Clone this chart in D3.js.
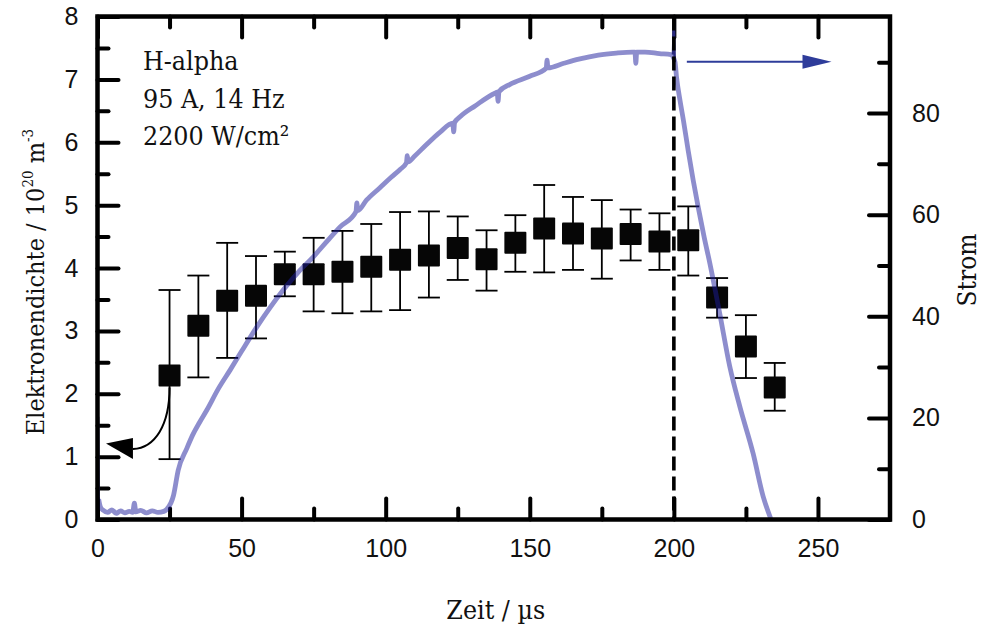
<!DOCTYPE html>
<html>
<head>
<meta charset="utf-8">
<script src="https://cdn.jsdelivr.net/npm/d3@7"></script>
<style>
  html, body { margin: 0; padding: 0; background: #ffffff; }
  svg { display: block; font-family: "DejaVu Serif Condensed", "DejaVu Serif", "Liberation Serif", serif; }
</style>
</head>
<body>
<svg id="chart" width="989" height="629"></svg>
<script>
// Electron density measurements (10^20 m^-3) with error limits
const times       = [25, 35, 45, 55, 65, 75, 85, 95, 105, 115, 125, 135, 145, 155, 165, 175, 185, 195, 205, 215, 225, 235];
const density     = [2.29, 3.08, 3.48, 3.56, 3.90, 3.90, 3.94, 4.02, 4.13, 4.20, 4.32, 4.14, 4.40, 4.63, 4.55, 4.47, 4.54, 4.42, 4.44, 3.53, 2.75, 2.10];
const densityHigh = [3.65, 3.88, 4.40, 4.19, 4.26, 4.48, 4.59, 4.70, 4.89, 4.90, 4.82, 4.60, 4.84, 5.32, 5.13, 5.08, 4.93, 4.87, 4.98, 3.84, 3.25, 2.49];
const densityLow  = [0.96, 2.26, 2.57, 2.88, 3.55, 3.31, 3.28, 3.31, 3.33, 3.53, 3.81, 3.64, 3.94, 3.93, 3.97, 3.83, 4.12, 3.97, 3.88, 3.21, 2.25, 1.73];

// Discharge current trace (A) over time (µs), including its small glitches
const traceTime    = [0.4, 1.0, 2.0, 3.5, 5.0, 6.5, 8.0, 9.5, 11.0, 12.2, 12.8, 13.3, 15.0, 17.0, 19.0, 21.0, 23.0, 24.0,
                      26.4, 28.0, 31.0, 33.0, 35.5, 38.0, 42.0, 46.0, 50.0, 55.3, 60.0, 64.5, 70.0, 74.9,
                      80.0, 84.2, 89.7, 90.0, 90.3, 93.4, 98.0, 102.0, 105.0, 107.2, 107.5, 107.8, 110.0, 114.0, 119.0,
                      123.3, 123.6, 123.9, 125.9, 131.0, 137.9, 138.7, 139.0, 139.3, 143.0, 149.8, 155.7, 156.0, 156.3,
                      161.8, 167.0, 173.8, 180.0, 185.7, 186.5, 186.8, 187.1, 190.0, 195.0, 199.0, 200.4, 200.9, 202.1,
                      203.3, 205.0, 206.7, 208.4, 210.5, 212.5, 215.9, 219.4, 222.9, 227.5, 231.0, 233.6];
const traceCurrent = [4.0, 2.5, 1.8, 1.4, 1.9, 1.2, 1.7, 1.3, 1.6, 1.4, 3.2, 1.5, 1.8, 1.3, 1.7, 1.4, 1.6, 2.0,
                      4.8, 9.7, 14.0, 16.6, 19.2, 21.6, 25.8, 29.4, 33.1, 37.9, 41.8, 45.2, 48.9, 51.7,
                      55.0, 57.6, 60.6, 62.3, 60.8, 62.9, 65.3, 67.4, 68.9, 70.2, 71.6, 70.4, 71.5, 73.7, 76.3,
                      78.0, 76.3, 78.1, 79.3, 81.4, 83.9, 84.1, 82.3, 84.2, 85.6, 87.2, 88.8, 90.4, 88.9,
                      89.8, 90.6, 91.4, 91.8, 92.0, 92.0, 89.8, 92.0, 92.0, 91.7, 91.5, 90.0, 87.2, 82.6,
                      78.6, 72.5, 66.8, 61.6, 55.6, 50.4, 40.6, 30.1, 22.2, 13.0, 4.5, 0.2];

// Switching spikes at pulse start and pulse end
const spikeStartTime    = [0.0, 0.2, 0.4];
const spikeStartCurrent = [0.0, 20.2, 4.0];
const spikeEndTime      = [199.7, 200.0, 200.3];
const spikeEndCurrent   = [91.5, 99.0, 90.0];

// Axis ticks
const xTicks       = [0, 50, 100, 150, 200, 250];
const xMinorTicks  = [25, 75, 125, 175, 225];
const yTicks       = [0, 1, 2, 3, 4, 5, 6, 7, 8];
const yMinorTicks  = [0.5, 1.5, 2.5, 3.5, 4.5, 5.5, 6.5, 7.5];
const y2Ticks      = [0, 20, 40, 60, 80];
const y2MinorTicks = [10, 30, 50, 70, 90];

const pulseEnd = 200;
const infoLines = ["H-alpha", "95 A, 14 Hz", "2200 W/cm\u00B2"];

const svg = d3.select("#chart");
const plotL = 97.5, plotR = 890, plotT = 16.5, plotB = 519.5;

const x  = d3.scaleLinear().domain([0, 275]).range([plotL, plotR]);
const y  = d3.scaleLinear().domain([0, 8]).range([plotB, plotT]);
const y2 = d3.scaleLinear().domain([0, 99]).range([plotB, plotT]);

const FS = 25;
const MAJ = 21, MIN = 11;

// --- axes (ticks point inward) ---
function styleAxis(g) {
  g.select(".domain").remove();
  g.selectAll(".tick line").attr("stroke", "#000").attr("stroke-width", 4).attr("stroke-linecap", "round");
  g.selectAll(".tick text").attr("fill", "#111").style("font-size", FS + "px");
}

svg.append("g").attr("transform", `translate(0,${plotB})`)
  .call(d3.axisBottom(x).tickValues(xTicks).tickSize(-MAJ).tickPadding(20).tickFormat(d3.format("d")))
  .call(styleAxis);
svg.append("g").attr("transform", `translate(0,${plotB})`)
  .call(d3.axisBottom(x).tickValues(xMinorTicks).tickSize(-MIN).tickFormat(""))
  .call(styleAxis);
svg.append("g").attr("transform", `translate(0,${plotT})`)
  .call(d3.axisTop(x).tickValues(xTicks).tickSize(-MAJ).tickFormat(""))
  .call(styleAxis);
svg.append("g").attr("transform", `translate(0,${plotT})`)
  .call(d3.axisTop(x).tickValues(xMinorTicks).tickSize(-MIN).tickFormat(""))
  .call(styleAxis);

svg.append("g").attr("transform", `translate(${plotL},0)`)
  .call(d3.axisLeft(y).tickValues(yTicks).tickSize(-MAJ).tickPadding(19).tickFormat(d3.format("d")))
  .call(styleAxis);
svg.append("g").attr("transform", `translate(${plotL},0)`)
  .call(d3.axisLeft(y).tickValues(yMinorTicks).tickSize(-MIN).tickFormat(""))
  .call(styleAxis);

svg.append("g").attr("transform", `translate(${plotR},0)`)
  .call(d3.axisRight(y2).tickValues(y2Ticks).tickSize(-MAJ).tickPadding(22).tickFormat(d3.format("d")))
  .call(styleAxis);
svg.append("g").attr("transform", `translate(${plotR},0)`)
  .call(d3.axisRight(y2).tickValues(y2MinorTicks).tickSize(-MIN).tickFormat(""))
  .call(styleAxis);

// --- density points with error bars ---
const pts = times.map((t, i) => ({ t, v: density[i], hi: densityHigh[i], lo: densityLow[i] }));
const SQ = 22, CAP = 22;
const bars = svg.append("g").attr("stroke", "#000").attr("stroke-width", 1.8);
bars.selectAll("line.stem").data(pts).join("line").attr("class", "stem")
  .attr("x1", d => x(d.t)).attr("x2", d => x(d.t))
  .attr("y1", d => y(d.hi)).attr("y2", d => y(d.lo));
bars.selectAll("line.capHi").data(pts).join("line").attr("class", "capHi")
  .attr("x1", d => x(d.t) - CAP / 2).attr("x2", d => x(d.t) + CAP / 2)
  .attr("y1", d => y(d.hi)).attr("y2", d => y(d.hi));
bars.selectAll("line.capLo").data(pts).join("line").attr("class", "capLo")
  .attr("x1", d => x(d.t) - CAP / 2).attr("x2", d => x(d.t) + CAP / 2)
  .attr("y1", d => y(d.lo)).attr("y2", d => y(d.lo));
svg.append("g").selectAll("rect").data(pts).join("rect")
  .attr("x", d => x(d.t) - SQ / 2).attr("y", d => y(d.v) - SQ / 2)
  .attr("width", SQ).attr("height", SQ).attr("rx", 1)
  .attr("fill", "#060606");

// --- current trace (translucent, drawn over the markers) ---
const line = d3.line().x(d => x(d[0])).y(d => y2(d[1]));
const smoothLine = d3.line().x(d => x(d[0])).y(d => y2(d[1])).curve(d3.curveMonotoneX);
const traceData = traceTime.map((t, i) => [t, traceCurrent[i]]);
svg.append("path").datum(traceData)
  .attr("d", smoothLine).attr("fill", "none")
  .attr("stroke", "#1c1c9c").attr("stroke-opacity", 0.5)
  .attr("stroke-width", 4.8).attr("stroke-linejoin", "round");
svg.append("path").datum(spikeStartTime.map((t, i) => [t, spikeStartCurrent[i]]))
  .attr("d", line).attr("fill", "none")
  .attr("stroke", "#2a2a7e").attr("stroke-width", 2.5);
svg.append("path").datum(spikeEndTime.map((t, i) => [t, spikeEndCurrent[i]]))
  .attr("d", line).attr("fill", "none")
  .attr("stroke", "#2a2a7e").attr("stroke-width", 2.5);

// --- end of pulse marker ---
svg.append("line")
  .attr("x1", x(pulseEnd)).attr("x2", x(pulseEnd))
  .attr("y1", plotT).attr("y2", plotB)
  .attr("stroke", "#000").attr("stroke-width", 3.6)
  .attr("stroke-dasharray", "14,6");

// --- arrow to the left axis (density belongs to the left scale) ---
const p0 = pts[0];
const ax0 = x(p0.t), ay0 = y(p0.v) + SQ / 2 + 1;
const ax1 = x(12.3), ay1 = y(1.12);
svg.append("path")
  .attr("d", `M${ax0},${ay0} C${ax0},${y(1.5)} ${x(20)},${y(1.14)} ${ax1},${ay1}`)
  .attr("fill", "none").attr("stroke", "#000").attr("stroke-width", 2);
svg.append("path")
  .attr("d", `M${x(2.95)},${y(1.21)} L${ax1},${ay1 - 11} L${ax1},${ay1 + 10} Z`)
  .attr("fill", "#000");

// --- arrow to the right axis (current belongs to the right scale) ---
const bx0 = x(204.5), bx1 = x(254.7), by = y(7.28);
svg.append("line")
  .attr("x1", bx0).attr("x2", bx1 - 20).attr("y1", by).attr("y2", by)
  .attr("stroke", "#2e3c9a").attr("stroke-width", 1.8);
svg.append("path")
  .attr("d", `M${bx1},${by} L${bx1 - 29},${by - 7} L${bx1 - 29},${by + 7} Z`)
  .attr("fill", "#2e3c9a");

// --- frame ---
svg.append("rect")
  .attr("x", plotL).attr("y", plotT).attr("width", plotR - plotL).attr("height", plotB - plotT)
  .attr("fill", "none").attr("stroke", "#000").attr("stroke-width", 4.5);

// --- info text ---
svg.append("g").selectAll("text").data(infoLines).join("text")
  .attr("x", 143).attr("y", (d, i) => 70 + i * 37.5)
  .attr("fill", "#111").style("font-size", "26.5px")
  .text(d => d);

// --- axis titles ---
svg.append("text")
  .attr("x", (plotL + plotR) / 2 + 2).attr("y", 619)
  .attr("text-anchor", "middle").attr("fill", "#111").style("font-size", "26.5px")
  .text("Zeit / \u00B5s");

const yt = svg.append("text")
  .attr("transform", `translate(44,${(plotT + plotB) / 2 + 14}) rotate(-90)`)
  .attr("text-anchor", "middle").attr("fill", "#111").style("font-size", FS + "px");
yt.append("tspan").text("Elektronendichte / 10");
yt.append("tspan").attr("dy", -11).style("font-size", "15px").text("20");
yt.append("tspan").attr("dy", 11).text(" m");
yt.append("tspan").attr("dy", -11).style("font-size", "15px").text("-3");

svg.append("text")
  .attr("transform", `translate(976,${(plotT + plotB) / 2 + 2}) rotate(-90)`)
  .attr("text-anchor", "middle").attr("fill", "#111").style("font-size", "26px")
  .text("Strom");
</script>
</body>
</html>
